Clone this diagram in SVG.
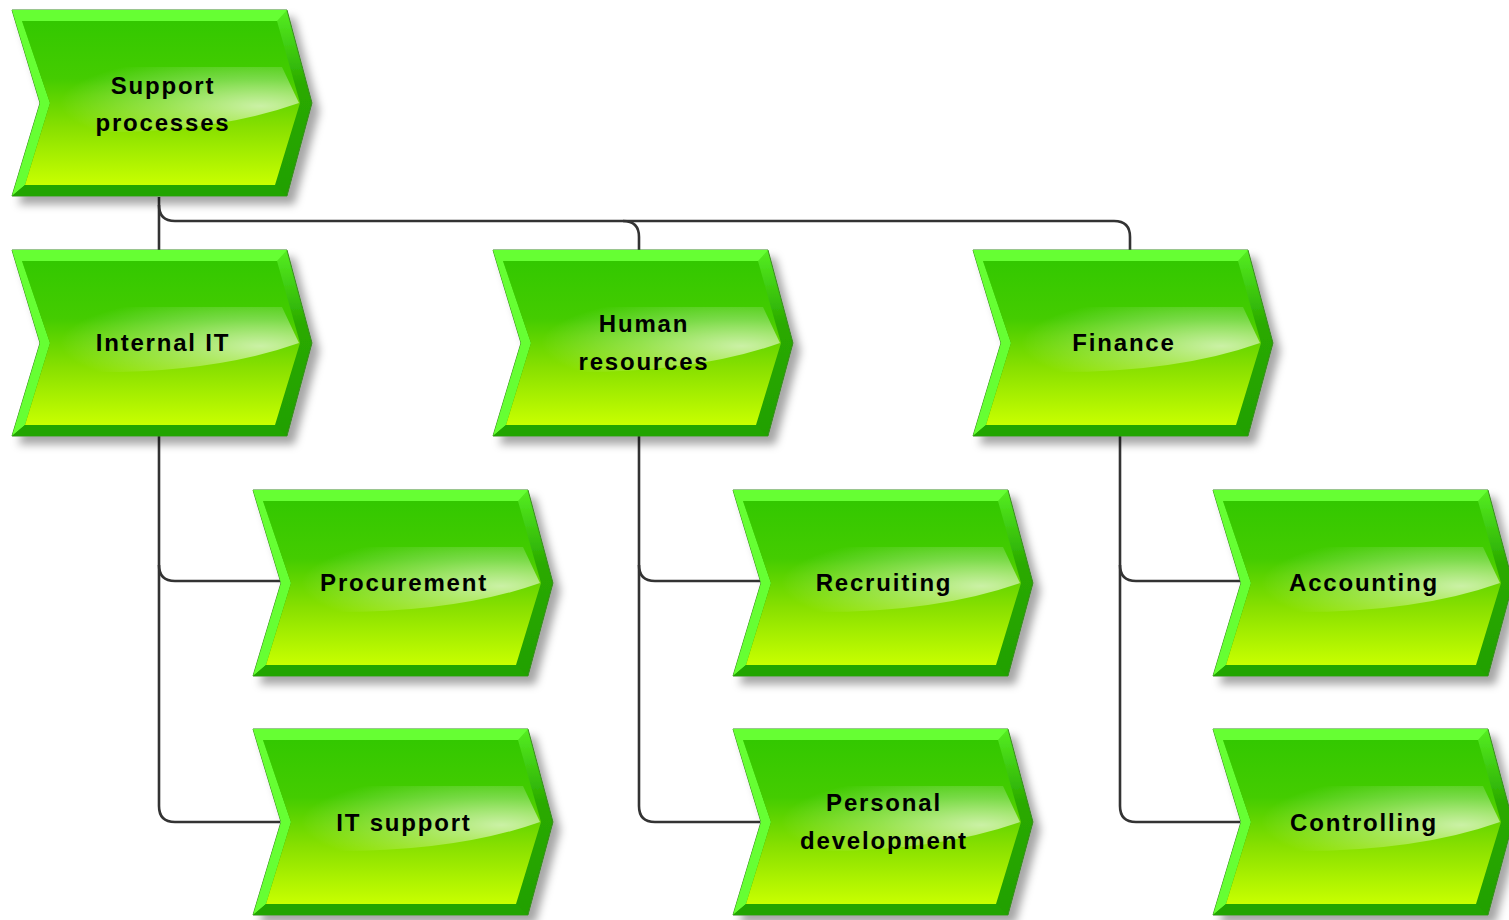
<svg xmlns="http://www.w3.org/2000/svg" width="1509" height="920" viewBox="0 0 1509 920">
<style>
.lbl{font-family:"Liberation Sans",Arial,sans-serif;font-weight:bold;font-size:24px;letter-spacing:1.8px;fill:#000;text-anchor:middle}
.con{fill:none;stroke:#333;stroke-width:2.6;stroke-linejoin:round}
</style>
<defs>
<linearGradient id="face" x1="0" y1="0" x2="0" y2="1">
<stop offset="0" stop-color="#33c800"/>
<stop offset="0.35" stop-color="#44cc00"/>
<stop offset="0.65" stop-color="#88e000"/>
<stop offset="1" stop-color="#c8ff00"/>
</linearGradient>
<radialGradient id="gloss" cx="0.82" cy="0.55" r="0.75" fx="0.85" fy="0.6">
<stop offset="0" stop-color="#fff" stop-opacity="0.65"/>
<stop offset="0.5" stop-color="#fff" stop-opacity="0.3"/>
<stop offset="1" stop-color="#fff" stop-opacity="0"/>
</radialGradient>
<linearGradient id="rbev" x1="0" y1="0" x2="0" y2="1">
<stop offset="0" stop-color="#55ee22"/>
<stop offset="0.4" stop-color="#2aaa00"/>
<stop offset="1" stop-color="#22a000"/>
</linearGradient>
<filter id="sh" x="-10%" y="-10%" width="130%" height="130%">
<feDropShadow dx="7" dy="8" stdDeviation="4" flood-color="#000" flood-opacity="0.35"/>
</filter>
<g id="chev">
<path d="M0,0 L275,0 L300,93 L275,186 L0,186 L28,93 Z" fill="url(#rbev)" stroke="#3a8a20" stroke-width="1" filter="url(#sh)"/>
<path d="M0,0 L275,0 L265,11 L10,11 L38,93 L13,175 L0,186 L28,93 Z" fill="#66ff33"/>
<path d="M13,175 L263,175 L275,186 L0,186 Z" fill="#22a400"/>
<path d="M10,11 L265,11 L288,93 L263,175 L13,175 L38,93 Z" fill="url(#face)"/>
<path d="M30,57 L270,57 L287,93 Q200,124 70,122 L38,93 Z" fill="url(#gloss)"/>
</g>
</defs>
<g id="connectors">
<path class="con" d="M159,197 L159,250"/>
<path class="con" d="M159,205 Q159,221 175,221 L623,221 Q639,221 639,237 L639,250"/>
<path class="con" d="M623,221 L1114,221 Q1130,221 1130,237 L1130,250"/>
<path class="con" d="M159,436 L159,806 Q159,822 175,822 L280,822"/>
<path class="con" d="M159,565 Q159,581 175,581 L280,581"/>
<path class="con" d="M639,436 L639,806 Q639,822 655,822 L760,822"/>
<path class="con" d="M639,565 Q639,581 655,581 L760,581"/>
<path class="con" d="M1120,436 L1120,806 Q1120,822 1136,822 L1240,822"/>
<path class="con" d="M1120,565 Q1120,581 1136,581 L1240,581"/>
</g>
<g id="support-processes" transform="translate(12,10)">
<use href="#chev"/>
<text class="lbl" x="151" y="84">Support</text>
<text class="lbl" x="151" y="121">processes</text>
</g>
<g id="internal-it" transform="translate(12,250)">
<use href="#chev"/>
<text class="lbl" x="151" y="101">Internal IT</text>
</g>
<g id="human-resources" transform="translate(493,250)">
<use href="#chev"/>
<text class="lbl" x="151" y="82">Human</text>
<text class="lbl" x="151" y="120">resources</text>
</g>
<g id="finance" transform="translate(973,250)">
<use href="#chev"/>
<text class="lbl" x="151" y="101">Finance</text>
</g>
<g id="procurement" transform="translate(253,490)">
<use href="#chev"/>
<text class="lbl" x="151" y="101">Procurement</text>
</g>
<g id="it-support" transform="translate(253,729)">
<use href="#chev"/>
<text class="lbl" x="151" y="102">IT support</text>
</g>
<g id="recruiting" transform="translate(733,490)">
<use href="#chev"/>
<text class="lbl" x="151" y="101">Recruiting</text>
</g>
<g id="personal-development" transform="translate(733,729)">
<use href="#chev"/>
<text class="lbl" x="151" y="82">Personal</text>
<text class="lbl" x="151" y="120">development</text>
</g>
<g id="accounting" transform="translate(1213,490)">
<use href="#chev"/>
<text class="lbl" x="151" y="101">Accounting</text>
</g>
<g id="controlling" transform="translate(1213,729)">
<use href="#chev"/>
<text class="lbl" x="151" y="102">Controlling</text>
</g>
</svg>
